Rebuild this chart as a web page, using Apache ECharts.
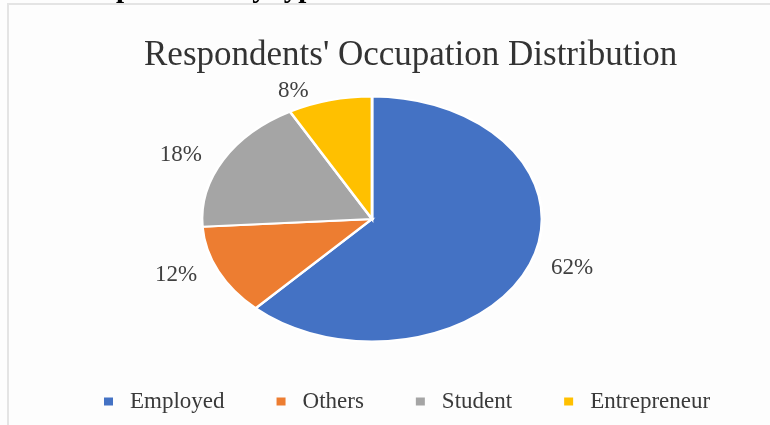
<!DOCTYPE html>
<html>
<head>
<meta charset="utf-8">
<script src="https://cdn.jsdelivr.net/npm/echarts@6/dist/echarts.min.js"></script>
<style>
  html, body { margin: 0; padding: 0; background: #ffffff; }
  #chart { width: 770px; height: 425px; }
</style>
</head>
<body>
<div id="chart"></div>
<script>
// Occupation shares of the respondents (percent)
const categories = ['Employed', 'Others', 'Student', 'Entrepreneur'];
const shares = [62, 12, 18, 8];
const colors = ['#4472C4', '#ED7D31', '#A5A5A5', '#FFC000'];
const chartTitle = "Respondents' Occupation Distribution";
const heading = 'Respondents by type';

const SERIF = '"Liberation Serif", "Times New Roman", serif';
const total = shares.reduce((a, b) => a + b, 0);

// Elliptical pie layout
const PIE = { cx: 372, cy: 219, rx: 170, ry: 122.5 };

function sliceRenderer(seriesIdx) {
  return function (params, api) {
    const value = api.value(0);
    let before = 0;
    for (let i = 0; i < seriesIdx; i++) before += shares[i];
    const start = -Math.PI / 2 + 2 * Math.PI * before / total;
    const end = start + 2 * Math.PI * value / total;
    const mid = 2 * Math.PI * (before + value / 2) / total;
    const sx = Math.sin(mid);
    const sy = -Math.cos(mid);
    const ex = PIE.cx + PIE.rx * sx;
    const ey = PIE.cy + PIE.ry * sy;
    return {
      type: 'group',
      children: [
        {
          type: 'sector',
          x: PIE.cx,
          y: PIE.cy,
          scaleX: PIE.rx / PIE.ry,
          shape: { cx: 0, cy: 0, r0: 0, r: PIE.ry, startAngle: start, endAngle: end, clockwise: true },
          style: { fill: api.visual('color'), stroke: '#ffffff', lineWidth: 2, strokeNoScale: true }
        },
        {
          type: 'text',
          x: ex + (sx >= 0 ? 21 : -21),
          y: ey + 10 * sy,
          style: {
            text: value + '%',
            fontFamily: SERIF,
            fontSize: 23,
            fill: '#404040',
            align: sx >= 0 ? 'left' : 'right',
            verticalAlign: 'middle'
          }
        }
      ]
    };
  };
}

const chart = echarts.init(document.getElementById('chart'), null, { renderer: 'canvas' });

chart.setOption({
  backgroundColor: '#fdfdfd',
  animation: false,
  title: {
    text: chartTitle,
    left: 139,
    top: 33,
    textStyle: { fontFamily: SERIF, fontSize: 35, fontWeight: 'normal', color: '#333333' }
  },
  legend: {
    data: categories,
    left: 99,
    top: 385,
    icon: 'rect',
    itemWidth: 9,
    itemHeight: 8,
    itemGap: 52,
    textStyle: { fontFamily: SERIF, fontSize: 23, color: '#3a3a3a', padding: [0, 0, 0, 12] }
  },
  graphic: [
    {
      type: 'rect',
      shape: { x: 8, y: 4, width: 800, height: 500 },
      style: { fill: 'none', stroke: '#e4e4e4', lineWidth: 2 },
      silent: true
    },
    {
      type: 'text',
      x: 71,
      y: 4,
      style: {
        text: heading,
        fontFamily: SERIF,
        fontSize: 29,
        fontWeight: 'bold',
        fill: '#000000',
        verticalAlign: 'bottom'
      },
      silent: true
    }
  ],
  series: categories.map((name, i) => ({
    type: 'custom',
    name: name,
    coordinateSystem: 'none',
    itemStyle: { color: colors[i] },
    data: [shares[i]],
    renderItem: sliceRenderer(i)
  }))
});
</script>
</body>
</html>
